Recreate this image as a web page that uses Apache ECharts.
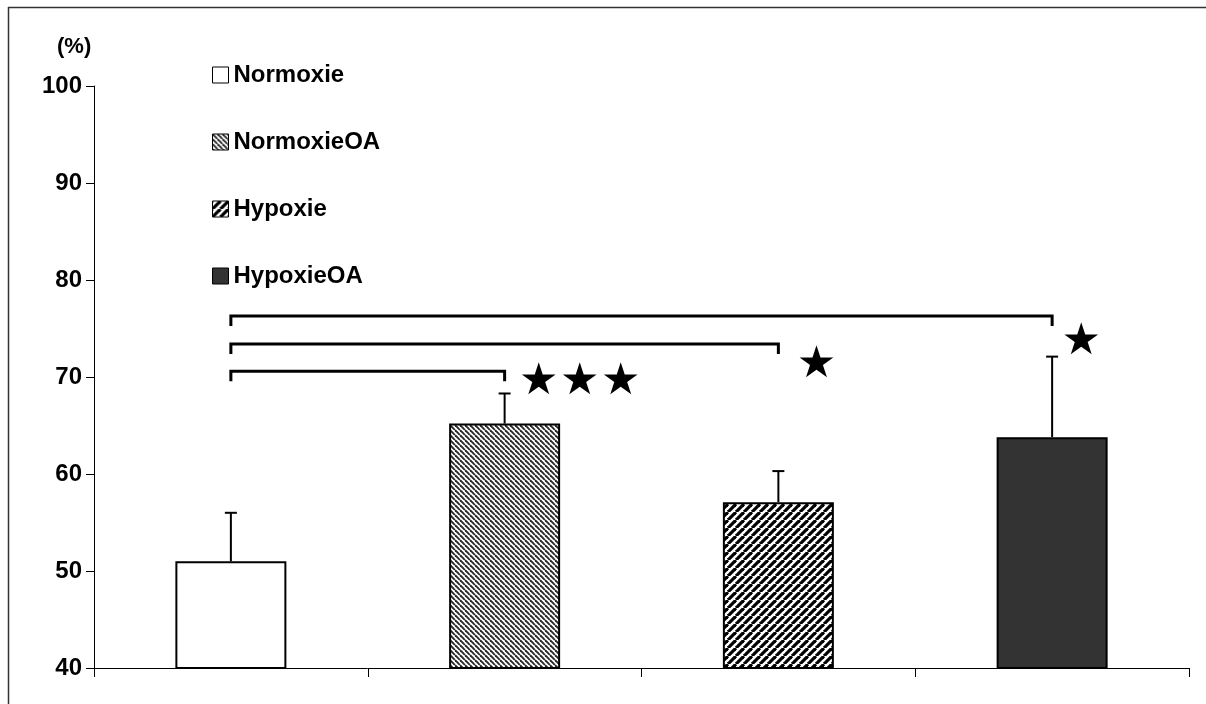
<!DOCTYPE html>
<html>
<head>
<meta charset="utf-8">
<script src="https://cdn.jsdelivr.net/npm/echarts@6/dist/echarts.min.js"></script>
<style>
html,body{margin:0;padding:0;background:#fff;}
#c{width:1206px;height:704px;}
</style>
</head>
<body>
<div id="c"></div>
<script>
// ---- data ----
const categories = ['Normoxie', 'NormoxieOA', 'Hypoxie', 'HypoxieOA'];
const means = [51.0, 65.2, 57.1, 63.8];
const errors = [5.0, 3.1, 3.2, 8.3];
const yTicks = [40, 50, 60, 70, 80, 90, 100];
// significance brackets: [from category, to category, level]
const brackets = [[0, 1, 70.6], [0, 2, 73.4], [0, 3, 76.3]];
// stars: [category, level, count]
const stars = [[1, 69.4, 3], [2, 71.2, 1], [3, 73.5, 1]];

// ---- styles ----
const starDx = [34, 38, 29];
const starStep = 41;

function stripes(p, lw, color, dir) {
  const cv = document.createElement('canvas');
  cv.width = p; cv.height = p;
  const ctx = cv.getContext('2d');
  ctx.fillStyle = '#fff';
  ctx.fillRect(0, 0, p, p);
  ctx.strokeStyle = color;
  ctx.lineWidth = lw;
  for (let k = -1; k <= 1; k++) {
    const x0 = k * p;
    ctx.beginPath();
    if (dir === 'back') { ctx.moveTo(x0, 0); ctx.lineTo(x0 + p, p); }
    else { ctx.moveTo(x0, p); ctx.lineTo(x0 + p, 0); }
    ctx.stroke();
  }
  return cv;
}

const fills = [
  '#ffffff',
  { image: stripes(5, 1.9, '#2a2a2a', 'back'), repeat: 'repeat' },
  { image: stripes(8, 3.2, '#000000', 'fwd'), repeat: 'repeat' },
  '#333333'
];

const chart = echarts.init(document.getElementById('c'));

const barSeries = categories.map((name, i) => ({
  name: name,
  type: 'bar',
  barWidth: 111,
  barGap: '-100%',
  data: categories.map((c, j) => (j === i ? means[i] : '-')),
  itemStyle: { color: fills[i], borderColor: '#000', borderWidth: 2 },
  emphasis: { disabled: true },
  animation: false
}));

const errSeries = {
  type: 'custom',
  silent: true,
  animation: false,
  data: means.map((m, i) => [i, m, m + errors[i]]),
  renderItem: function (params, api) {
    const x = api.value(0);
    const p0 = api.coord([x, api.value(1)]);
    const p1 = api.coord([x, api.value(2)]);
    return {
      type: 'group',
      children: [
        { type: 'line', shape: { x1: p0[0], y1: p0[1], x2: p1[0], y2: p1[1] }, style: { stroke: '#000', lineWidth: 2 } },
        { type: 'line', shape: { x1: p1[0] - 6, y1: p1[1], x2: p1[0] + 6, y2: p1[1] }, style: { stroke: '#000', lineWidth: 2 } }
      ]
    };
  }
};

const bracketSeries = {
  type: 'custom',
  silent: true,
  animation: false,
  data: brackets,
  renderItem: function (params, api) {
    const a = api.coord([api.value(0), api.value(2)]);
    const b = api.coord([api.value(1), api.value(2)]);
    const drop = 10;
    return {
      type: 'polyline',
      shape: { points: [[a[0], a[1] + drop], [a[0], a[1]], [b[0], b[1]], [b[0], b[1] + drop]] },
      style: { stroke: '#000', lineWidth: 3, fill: null }
    };
  }
};

const starSeries = {
  type: 'custom',
  silent: true,
  animation: false,
  data: stars,
  renderItem: function (params, api) {
    const idx = params.dataIndex;
    const p = api.coord([api.value(0), api.value(1)]);
    const n = api.value(2);
    const children = [];
    for (let k = 0; k < n; k++) {
      children.push({
        type: 'text',
        style: {
          text: '★',
          x: p[0] + starDx[idx] + k * starStep,
          y: p[1],
          align: 'center',
          verticalAlign: 'middle',
          font: '44px "DejaVu Sans"',
          fill: '#000'
        }
      });
    }
    return { type: 'group', children: children };
  }
};

chart.setOption({
  backgroundColor: '#fff',
  animation: false,
  grid: { left: 94, right: 17, top: 86, bottom: 36 },
  legend: {
    data: categories.map(n => ({ name: n, icon: 'rect' })),
    orient: 'vertical',
    left: 207,
    top: 58,
    itemWidth: 16,
    itemHeight: 16,
    itemGap: 43,
    selectedMode: false,
    itemStyle: { borderWidth: 1 },
    textStyle: { fontFamily: 'Liberation Sans', fontWeight: 'bold', fontSize: 24, color: '#000' }
  },
  xAxis: {
    type: 'category',
    data: categories,
    axisLine: { lineStyle: { color: '#000', width: 1 } },
    axisTick: { show: true, length: 9, lineStyle: { color: '#000', width: 1 } },
    axisLabel: { show: false },
    splitLine: { show: false }
  },
  yAxis: {
    type: 'value',
    min: yTicks[0],
    max: yTicks[yTicks.length - 1],
    interval: 10,
    axisLine: { show: true, lineStyle: { color: '#000', width: 1 } },
    axisTick: { show: true, length: 8, lineStyle: { color: '#000', width: 1 } },
    axisLabel: { margin: 12, color: '#000', fontFamily: 'Liberation Sans', fontWeight: 'bold', fontSize: 24 },
    splitLine: { show: false }
  },
  graphic: [
    { type: 'text', left: 57, top: 36, style: { text: '(%)', font: 'bold 22px "Liberation Sans"', fill: '#000' } },
    { type: 'line', shape: { x1: 8, y1: 7.5, x2: 1206, y2: 7.5 }, style: { stroke: '#333', lineWidth: 1.5 } },
    { type: 'line', shape: { x1: 8.5, y1: 7, x2: 8.5, y2: 704 }, style: { stroke: '#333', lineWidth: 1.5 } }
  ],
  series: barSeries.concat([errSeries, bracketSeries, starSeries])
});
</script>
</body>
</html>
